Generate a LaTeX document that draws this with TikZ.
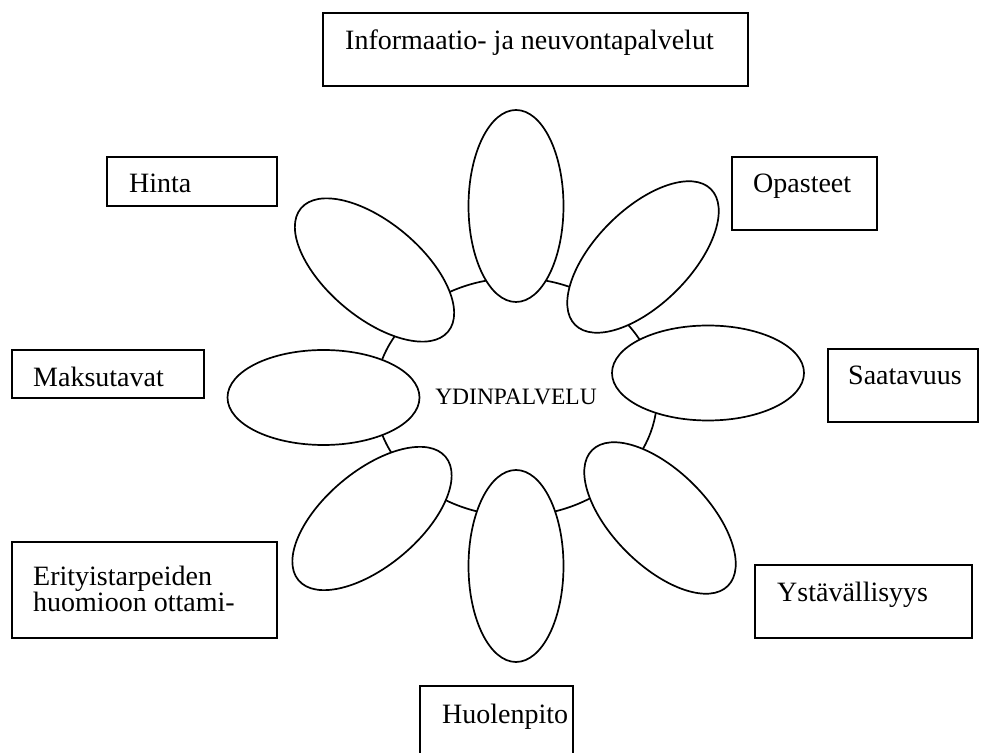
\documentclass[tikz,border=0pt]{standalone}
\usepackage{fontspec}
\setmainfont{Liberation Serif}
\usetikzlibrary{shapes.geometric}
\begin{document}
\begin{tikzpicture}[x=1pt,y=1pt,
  box/.style={draw, line width=2pt, rectangle, inner sep=0pt},
  lbl/.style={font=\fontsize{28}{25}\selectfont, inner sep=0pt, anchor=base west, align=left},
  petal/.style={draw, ellipse, fill=white, line width=1.7pt, inner sep=0pt,
                minimum width=192pt, minimum height=95pt}]
\useasboundingbox (0,0) rectangle (987,752);
\clip (0,0) rectangle (987,752);
% core
\node[draw, ellipse, line width=1.7pt, inner sep=0pt, minimum width=282pt, minimum height=238pt,
      font=\fontsize{23.5}{25}\selectfont] (core) at (516,355) {YDINPALVELU};
% petals
\node[petal, rotate=90]  (p1) at (516,546) {};
\node[petal, rotate=45]  (p2) at (643,495) {};
\node[petal]             (p3) at (708,379) {};
\node[petal, rotate=-45] (p4) at (660,234) {};
\node[petal, rotate=90]  (p5) at (516,186) {};
\node[petal, rotate=40]  (p6) at (372,233.5) {};
\node[petal]             (p7) at (323.5,354.5) {};
\node[petal, rotate=-40] (p8) at (374.5,482) {};
% boxes
\node[box, minimum width=425pt, minimum height=73pt] (info)  at (535.5,702.5) {};
\node[box, minimum width=170pt, minimum height=49pt] (hinta) at (192,570.5) {};
\node[box, minimum width=145pt, minimum height=73pt] (opast) at (804.5,558.5) {};
\node[box, minimum width=192pt, minimum height=48pt] (maksu) at (108,378) {};
\node[box, minimum width=150pt, minimum height=73pt] (saat)  at (903,366.5) {};
\node[box, minimum width=265pt, minimum height=96pt] (erit)  at (144.5,162) {};
\node[box, minimum width=217pt, minimum height=73pt] (ystav) at (863.5,150.5) {};
\node[box, minimum width=153pt, minimum height=76pt] (huol)  at (496.5,28) {};
% labels
\node[lbl] (infoT)  at (345,702) {Informaatio- ja neuvontapalvelut};
\node[lbl] (hintaT) at (129,559) {Hinta};
\node[lbl] (opastT) at (753,559) {Opasteet};
\node[lbl] (maksuT) at (33,365) {Maksutavat};
\node[lbl] (saatT)  at (848,367) {Saatavuus};
\node[lbl] (eritT)  at (33,140) {Erityistarpeiden\\huomioon ottami-};
\node[lbl] (ystavT) at (777,150) {Ystävällisyys};
\node[lbl] (huolT)  at (442,29) {Huolenpito};
\end{tikzpicture}
\end{document}
